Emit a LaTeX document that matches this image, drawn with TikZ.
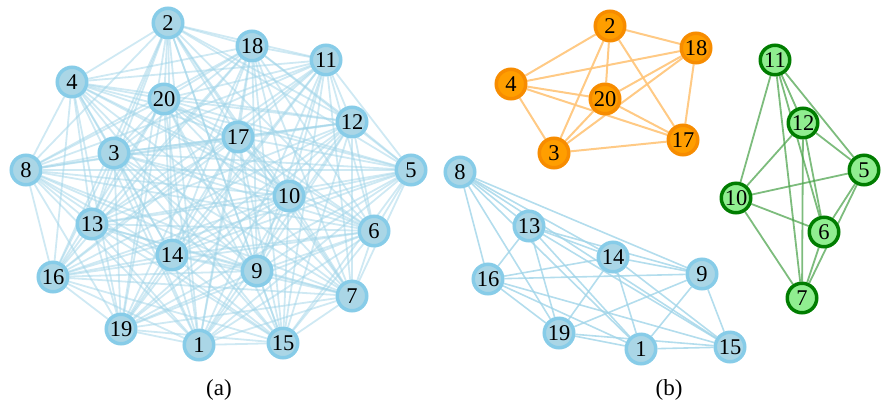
\documentclass[tikz,border=0pt]{standalone}
\usepackage{fontspec}
\setmainfont{Liberation Serif}
\pgfdeclarelayer{background}
\pgfsetlayers{background,main}
\definecolor{bfill}{RGB}{170,214,230}
\definecolor{bline}{RGB}{135,204,232}
\definecolor{bedge}{RGB}{160,212,232}
\definecolor{ofill}{RGB}{255,158,0}
\definecolor{oline}{RGB}{247,140,0}
\definecolor{oedge}{RGB}{255,196,120}
\definecolor{gfill}{RGB}{144,238,144}
\definecolor{gline}{RGB}{0,125,0}
\definecolor{gedge}{RGB}{70,160,70}
\tikzset{
  vtx/.style={circle,minimum size=29.5pt,inner sep=0pt,line width=3.5pt,font=\fontsize{22.5}{22.5}\selectfont},
  bnode/.style={vtx,fill=bfill,draw=bline},
  onode/.style={vtx,fill=ofill,draw=oline},
  gnode/.style={vtx,fill=gfill,draw=gline},
  aedge/.style={draw=bedge,line width=1.8pt,opacity=0.5},
  bbedge/.style={draw=bedge,line width=1.6pt,opacity=0.8},
  oedgestyle/.style={draw=oedge,line width=2pt,opacity=0.9},
  gedgestyle/.style={draw=gedge,line width=1.8pt,opacity=0.7},
  caption/.style={font=\fontsize{23}{23}\selectfont}
}
\begin{document}
\begin{tikzpicture}[x=1pt,y=-1pt]
\useasboundingbox (0,0) rectangle (883,408);
% (a) nodes
\node[bnode] (a2) at (168,23) {2};
\node[bnode] (a18) at (252,46) {18};
\node[bnode] (a11) at (326,60) {11};
\node[bnode] (a4) at (72,82) {4};
\node[bnode] (a20) at (164,99) {20};
\node[bnode] (a12) at (352,122) {12};
\node[bnode] (a17) at (238,137) {17};
\node[bnode] (a3) at (114,153) {3};
\node[bnode] (a8) at (26,170) {8};
\node[bnode] (a5) at (411,170) {5};
\node[bnode] (a10) at (289,196) {10};
\node[bnode] (a13) at (92,224) {13};
\node[bnode] (a6) at (374,231) {6};
\node[bnode] (a14) at (172,255) {14};
\node[bnode] (a16) at (53,277) {16};
\node[bnode] (a9) at (257,271) {9};
\node[bnode] (a7) at (352,296) {7};
\node[bnode] (a19) at (121,329) {19};
\node[bnode] (a1) at (199,345) {1};
\node[bnode] (a15) at (283,343) {15};
% (b) nodes
\node[onode] (b2) at (610,26) {2};
\node[onode] (b18) at (696,48) {18};
\node[onode] (b4) at (511,84) {4};
\node[onode] (b20) at (605,99) {20};
\node[onode] (b17) at (683,140) {17};
\node[onode] (b3) at (554,153) {3};
\node[gnode] (b11) at (775,60) {11};
\node[gnode] (b12) at (803,123) {12};
\node[gnode] (b5) at (864,170) {5};
\node[gnode] (b10) at (736,198) {10};
\node[gnode] (b6) at (824,232) {6};
\node[gnode] (b7) at (802,298) {7};
\node[bnode] (b8) at (460,172) {8};
\node[bnode] (b13) at (529,226) {13};
\node[bnode] (b14) at (613,257) {14};
\node[bnode] (b9) at (702,274) {9};
\node[bnode] (b16) at (488,279) {16};
\node[bnode] (b19) at (559,333) {19};
\node[bnode] (b1) at (641,349) {1};
\node[bnode] (b15) at (730,347) {15};
% captions
\node[caption] (capa) at (219,390) {(a)};
\node[caption] (capb) at (669,390) {(b)};
\begin{pgfonlayer}{background}
\foreach \x [count=\xi] in {1,...,20} {
  \foreach \y [count=\yi] in {1,...,20} {
    \ifnum\xi<\yi \draw[aedge] (a\x) -- (a\y); \fi
  }
}
\foreach \x [count=\xi] in {2,18,4,20,17,3} {
  \foreach \y [count=\yi] in {2,18,4,20,17,3} {
    \ifnum\xi<\yi \draw[oedgestyle] (b\x) -- (b\y); \fi
  }
}
\foreach \x [count=\xi] in {11,12,5,10,6,7} {
  \foreach \y [count=\yi] in {11,12,5,10,6,7} {
    \ifnum\xi<\yi \draw[gedgestyle] (b\x) -- (b\y); \fi
  }
}
\foreach \x [count=\xi] in {8,13,14,9,16,19,1,15} {
  \foreach \y [count=\yi] in {8,13,14,9,16,19,1,15} {
    \ifnum\xi<\yi \draw[bbedge] (b\x) -- (b\y); \fi
  }
}
\end{pgfonlayer}
\end{tikzpicture}
\end{document}
